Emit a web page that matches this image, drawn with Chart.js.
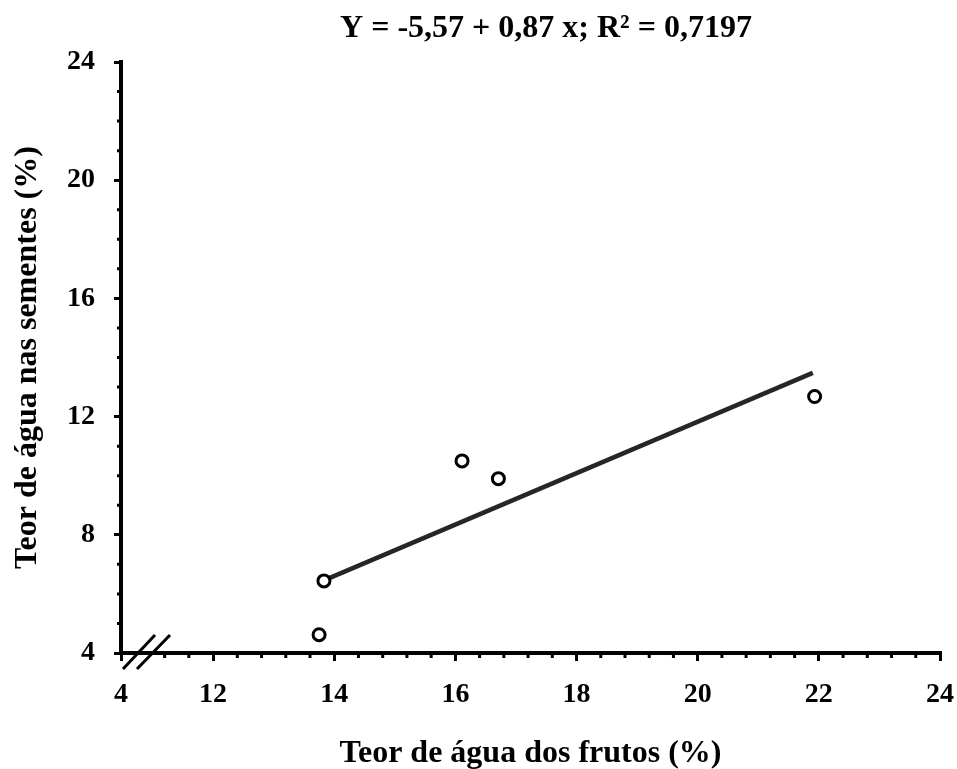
<!DOCTYPE html>
<html>
<head>
<meta charset="utf-8">
<script src="https://cdn.jsdelivr.net/npm/chart.js@4.4.0/dist/chart.umd.min.js"></script>
<style>body{margin:0;background:#fff}</style>
</head>
<body>
<canvas id="grafico" width="957" height="769"></canvas>
<script>
// dados
const frutos = [13.75, 13.83, 16.11, 16.71, 21.93];
const sementes = [4.62, 6.44, 10.5, 9.9, 12.68];
// reta de regressão (extremos)
const retaX = [13.83, 21.9];
const retaY = [6.46, 13.48];
// eixo x com quebra: o primeiro rótulo "4" fica no início
const xTicks = [10.48, 12, 14, 16, 18, 20, 22, 24];
const xTickLabels = ['4', '12', '14', '16', '18', '20', '22', '24'];
const yTicks = [4, 8, 12, 16, 20, 24];
const equacao = 'Y = -5,57 + 0,87 x; R² = 0,7197';

const fonte = 'Liberation Serif, Times New Roman, serif';

// ticks menores, marca de quebra do eixo e equação no topo
const extras = {
    id: 'extras',
    afterDraw(chart) {
        const { ctx, scales: { x, y }, chartArea: a } = chart;
        ctx.save();
        ctx.strokeStyle = '#000';
        ctx.lineWidth = 3;
        ctx.beginPath();
        for (let k = 28; k < 60; k++) {
            if (k % 5 === 0) continue;
            const px = x.getPixelForValue(k * 0.4);
            ctx.moveTo(px, a.bottom);
            ctx.lineTo(px, a.bottom + 5);
        }
        for (let v = 5; v < 24; v++) {
            if (v % 4 === 0) continue;
            const py = y.getPixelForValue(v);
            ctx.moveTo(a.left - 4, py);
            ctx.lineTo(a.left, py);
        }
        ctx.stroke();
        // quebra
        ctx.beginPath();
        ctx.moveTo(a.left + 2, a.bottom + 16);
        ctx.lineTo(a.left + 34, a.bottom - 18);
        ctx.moveTo(a.left + 16, a.bottom + 16);
        ctx.lineTo(a.left + 49, a.bottom - 18);
        ctx.stroke();
        // equação
        ctx.fillStyle = '#000';
        ctx.font = 'bold 32px ' + fonte;
        ctx.textAlign = 'center';
        ctx.textBaseline = 'alphabetic';
        ctx.fillText(equacao, 546, 37);
        ctx.restore();
    }
};

const ctx = document.getElementById('grafico').getContext('2d');
new Chart(ctx, {
    type: 'scatter',
    data: {
        datasets: [
            {
                label: 'Dados',
                data: frutos.map((v, i) => ({ x: v, y: sementes[i] })),
                pointRadius: 6,
                pointBorderWidth: 3,
                pointBorderColor: '#000',
                pointBackgroundColor: '#fff',
                order: 1
            },
            {
                type: 'line',
                label: 'Reta',
                data: retaX.map((v, i) => ({ x: v, y: retaY[i] })),
                borderColor: '#262626',
                borderWidth: 4.5,
                pointRadius: 0,
                fill: false,
                order: 2
            }
        ]
    },
    options: {
        responsive: false,
        animation: false,
        layout: { padding: { left: 0, right: 17, top: 62, bottom: 0 } },
        plugins: {
            legend: { display: false },
            tooltip: { enabled: false },
            title: { display: false }
        },
        scales: {
            x: {
                type: 'linear',
                min: xTicks[0],
                max: 24,
                afterFit: s => { s.height = 116; s.paddingLeft = 0; s.paddingRight = 0; },
                afterBuildTicks: s => { s.ticks = xTicks.map(v => ({ value: v })); },
                ticks: {
                    autoSkip: false,
                    maxRotation: 0,
                    padding: 17,
                    color: '#000',
                    font: { family: fonte, size: 28, weight: 'bold' },
                    callback: (v) => xTickLabels[xTicks.indexOf(v)]
                },
                grid: { drawOnChartArea: false, tickLength: 8, lineWidth: 3, color: '#000' },
                border: { width: 4, color: '#000' },
                title: {
                    display: true,
                    text: 'Teor de água dos frutos (%)',
                    color: '#000',
                    font: { family: fonte, size: 32, weight: 'bold' },
                    padding: { top: 0, bottom: -4 }
                }
            },
            y: {
                min: 4,
                max: 24,
                afterFit: s => { s.width = 121; },
                afterBuildTicks: s => { s.ticks = yTicks.map(v => ({ value: v })); },
                ticks: {
                    padding: 19,
                    color: '#000',
                    font: { family: fonte, size: 28, weight: 'bold' }
                },
                grid: { drawOnChartArea: false, tickLength: 7, lineWidth: 3, color: '#000' },
                border: { width: 4, color: '#000' },
                title: {
                    display: true,
                    text: 'Teor de água nas sementes (%)',
                    color: '#000',
                    font: { family: fonte, size: 32, weight: 'bold' },
                    padding: { top: 9, bottom: 0 }
                }
            }
        }
    },
    plugins: [extras]
});
</script>
</body>
</html>
